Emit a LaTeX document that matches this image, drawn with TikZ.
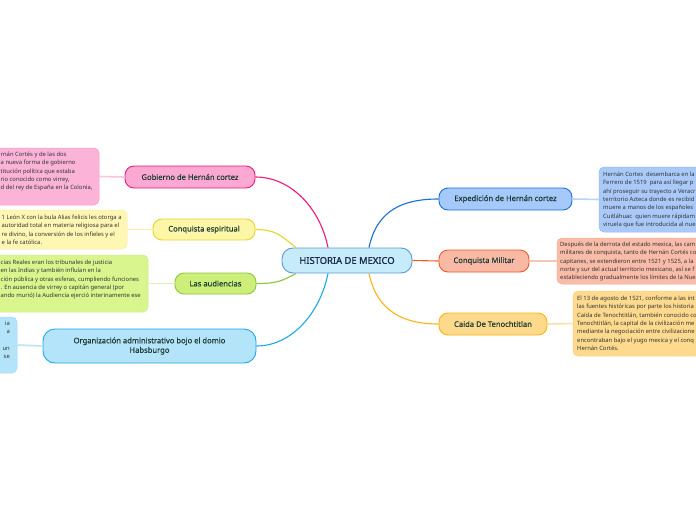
\documentclass[tikz,border=0pt]{standalone}
\usepackage{fontspec}
\setmainfont{Noto Sans}
\newfontfamily\centralfont[FakeBold=1.2]{Noto Sans}
\newfontfamily\topicfont[FakeBold=0.4]{Noto Sans}
\definecolor{pinkline}{HTML}{EC1A7E}
\definecolor{pinkfill}{HTML}{FBA8D2}
\definecolor{pinknote}{HTML}{FCB3D8}
\definecolor{pinklink}{HTML}{F9C6DE}
\definecolor{yelline}{HTML}{E6D52B}
\definecolor{yelfill}{HTML}{FDF6A6}
\definecolor{yelnote}{HTML}{FEF6B3}
\definecolor{yellink}{HTML}{F7EEA0}
\definecolor{grnline}{HTML}{8DC63F}
\definecolor{grnfill}{HTML}{CDEF7A}
\definecolor{grnnote}{HTML}{D8F58E}
\definecolor{grnlink}{HTML}{DDEEB5}
\definecolor{cyline}{HTML}{1DA8E6}
\definecolor{cyfill}{HTML}{B4E4FA}
\definecolor{cynote}{HTML}{B4E4FA}
\definecolor{cylink}{HTML}{B9E4F7}
\definecolor{blueline}{HTML}{1B6FD8}
\definecolor{bluefill}{HTML}{A5C9FB}
\definecolor{bluenote}{HTML}{A9C9F9}
\definecolor{bluelink}{HTML}{B9D2F7}
\definecolor{redline}{HTML}{EF5A2B}
\definecolor{redfill}{HTML}{F9B9A5}
\definecolor{rednote}{HTML}{F9BCA8}
\definecolor{redlink}{HTML}{F6C5B5}
\definecolor{orline}{HTML}{FBB317}
\definecolor{orfill}{HTML}{FDD98B}
\definecolor{ornote}{HTML}{FDDA8E}
\definecolor{orlink}{HTML}{FCE1A6}
\definecolor{cfill}{HTML}{C6EBFB}
\definecolor{cborder}{HTML}{5B9BD5}
\definecolor{ctext}{HTML}{1B2A4A}
\definecolor{topictext}{HTML}{1D3B34}
\definecolor{notetextc}{HTML}{333333}
\begin{document}
\begin{tikzpicture}[x=1pt,y=-1pt,
  topic/.style={draw, rounded corners=9pt, line width=0.9pt, inner sep=0pt, text=topictext, font=\topicfont\fontsize{7.6}{9.5}\selectfont},
  notebox/.style={draw, rounded corners=5pt, line width=0.5pt, inner sep=0pt},
  notetext/.style={anchor=north west, align=left, inner sep=0pt, text=notetextc, font=\fontsize{5.85}{8.3}\selectfont},
  branch/.style={line width=1.1pt},
  link/.style={line width=1.6pt}]
\useasboundingbox (0,0) rectangle (696,520);
\clip (0,0) rectangle (696,520);
\fill[white] (0,0) rectangle (696,520);

% central
\node[topic, fill=cfill, draw=cborder, minimum width=130pt, minimum height=25pt, rounded corners=11pt, text=ctext, font=\centralfont\fontsize{9.4}{11}\selectfont] (c) at (347,260.5) {HISTORIA DE MEXICO};

% right topics
\node[topic, fill=bluefill, draw=blueline, minimum width=133pt, minimum height=22pt] (exp) at (505.5,199) {Expedición de Hernán cortez};
\node[topic, fill=redfill, draw=redline, minimum width=90pt, minimum height=22pt] (mil) at (484,261) {Conquista Militar};
\node[topic, fill=orfill, draw=orline, minimum width=108pt, minimum height=22pt] (cai) at (493,324) {Caida De Tenochtitlan};

% left topics
\node[topic, fill=pinkfill, draw=pinkline, minimum width=130pt, minimum height=22pt] (gob) at (190,177) {Gobierno de Hernán cortez};
\node[topic, fill=yelfill, draw=yelline, minimum width=102pt, minimum height=21pt] (esp) at (204,229.5) {Conquista espiritual};
\node[topic, fill=grnfill, draw=grnline, minimum width=81pt, minimum height=21pt] (aud) at (215.5,283.5) {Las audiencias};
\node[topic, fill=cyfill, draw=cyline, minimum width=213pt, minimum height=34pt, align=center, rounded corners=12pt] (org) at (149.5,346) {Organización administrativo bojo el domio\\Habsburgo};

% branches
\draw[branch, draw=pinkline] ([xshift=-19pt]c.north) .. controls +(-8,-40) and +(35,0) .. (gob.east);
\draw[branch, draw=yelline] ([xshift=-51pt]c.north) .. controls +(-15,-12) and +(20,0) .. (esp.east);
\draw[branch, draw=grnline] ([xshift=-51pt]c.south) .. controls +(-15,8) and +(20,0) .. (aud.east);
\draw[branch, draw=cyline] ([xshift=-19pt]c.south) .. controls +(-8,40) and +(35,0) .. (org.east);
\draw[branch, draw=blueline] ([xshift=22pt]c.north) .. controls +(8,-38) and +(-35,0) .. (exp.west);
\draw[branch, draw=orline] ([xshift=22pt]c.south) .. controls +(8,38) and +(-35,0) .. (cai.west);
\draw[branch, draw=redline] (c.east) -- (mil.west);

% notes right
\node[notebox, fill=bluenote, draw=bluenote!85!blueline, minimum width=121pt, minimum height=65pt] (expn) at (659.5,199.5) {};
\node[notetext] (expt) at (603,172) {Hernán Cortes\ \ desembarca en la\\Ferrero de 1519\ \ para así llegar p\\ahí proseguir su trayecto a Veracr\\territorio Azteca donde es recibid\\muere a manos de los españoles\\Cuitláhuac\ \ quien muere rápidam\\viruela que fue introducida al nue};
\node[notebox, fill=rednote, draw=rednote!85!redline, minimum width=163pt, minimum height=46pt] (miln) at (638.5,261) {};
\node[notetext] (milt) at (560,242) {Después de la derrota del estado mexica, las cam\\militares de conquista, tanto de Hernán Cortés co\\capitanes, se extendieron entre 1521 y 1525, a la\\norte y sur del actual territorio mexicano, así se f\\estableciendo gradualmente los límites de la Nue};
\node[notebox, fill=ornote, draw=ornote!85!orline, minimum width=147pt, minimum height=65pt] (cain) at (646.5,323.5) {};
\node[notetext] (cait) at (577,296) {El 13 de agosto de 1521, conforme a las int\\las fuentes históricas por parte los historia\\Caída de Tenochtitlán, también conocido co\\Tenochtitlán, la capital de la civilización me\\mediante la negociación entre civilizacione\\encontraban bajo el yugo mexica y el conq\\Hernán Cortés.};

% notes left
\node[notebox, fill=pinknote, draw=pinknote!85!pinkline, minimum width=129pt, minimum height=57pt] (gobn) at (34.5,176.5) {};
\node[notetext] (gobt) at (0.5,152) {rnán Cortés y de las dos\\a nueva forma de gobierno\\titución política que estaba\\rio conocido como virrey,\\d del rey de España en la Colonia,};
\node[notebox, fill=yelnote, draw=yelnote!85!yelline, minimum width=157pt, minimum height=39pt] (espn) at (48.5,229.5) {};
\node[notetext] (espt) at (1.5,215) {1 León X con la bula Alias felicis les otorga a\\autoridad total en materia religiosa para el\\re divino, la conversión de los infieles y el\\e la fe católica.};
\node[notebox, fill=grnnote, draw=grnnote!85!grnline, minimum width=178pt, minimum height=57pt] (audn) at (59,283.5) {};
\node[notetext] (audt) at (0.5,260) {cias Reales eran los tribunales de justicia\\en las Indias y también influían en la\\ción pública y otras esferas, cumpliendo funciones\\. En ausencia de virrey o capitán general (por\\ando murió) la Audiencia ejerció interinamente ese};
\node[notebox, fill=cynote, draw=cynote!85!cyline, minimum width=47pt, minimum height=56pt] (orgn) at (-6.5,345) {};
\node[notetext, anchor=north east, align=right] (orgt) at (10,321) {ia\\a\\\mbox{}\\un\\se};

% links topic-note
\draw[link, draw=bluelink] (exp.east) -- (expn.west);
\draw[link, draw=redlink] (mil.east) -- (miln.west);
\draw[link, draw=orlink] (cai.east) -- (cain.west);
\draw[link, draw=pinklink] (gob.west) -- (gobn.east);
\draw[link, draw=yellink] (esp.west) -- (espn.east);
\draw[link, draw=grnlink] (aud.west) -- (audn.east);
\draw[link, draw=cylink] (org.west) -- (orgn.east);
\end{tikzpicture}
\end{document}
